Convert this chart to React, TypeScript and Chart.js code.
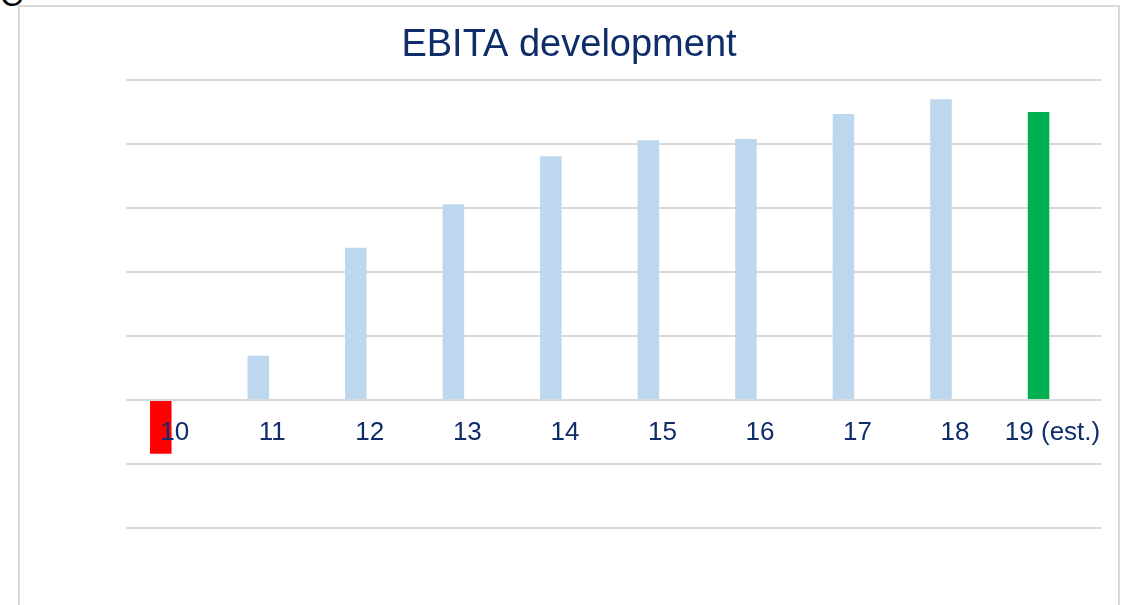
import React, { useEffect, useRef } from "react";
import { Chart, registerables } from "chart.js";

Chart.register(...registerables);

const categories = ["10", "11", "12", "13", "14", "15", "16", "17", "18", "19 (est.)"];
const ebitaValues = [-0.84, 0.69, 2.38, 3.06, 3.81, 4.06, 4.08, 4.47, 4.7, 4.5];
const spacerValues = [null, null, null, null, null, null, null, null, null, null];
const barColors = [
  "#FF0000",
  "#BDD7EE",
  "#BDD7EE",
  "#BDD7EE",
  "#BDD7EE",
  "#BDD7EE",
  "#BDD7EE",
  "#BDD7EE",
  "#BDD7EE",
  "#00B050",
];
const yMin = -2;
const yMax = 5;
const yStep = 1;
const titleText = "EBITA development";

export default function App() {
  const canvasRef = useRef<HTMLCanvasElement | null>(null);

  useEffect(() => {
    const canvas = canvasRef.current;
    if (!canvas) return;
    const chart = new Chart(canvas, {
      type: "bar",
      data: {
        labels: categories,
        datasets: [
          {
            label: "EBITA",
            data: ebitaValues,
            backgroundColor: barColors,
            borderWidth: 0,
            categoryPercentage: 0.574,
            barPercentage: 0.77,
          },
          {
            label: "spacer",
            data: spacerValues as any,
            backgroundColor: "rgba(0,0,0,0)",
            borderWidth: 0,
            categoryPercentage: 0.574,
            barPercentage: 0.77,
          },
        ],
      },
      options: {
        animation: false,
        responsive: false,
        devicePixelRatio: 1,
        layout: { padding: { left: 0, right: 0, top: 0, bottom: 77 } },
        plugins: {
          legend: { display: false },
          tooltip: { enabled: false },
          title: {
            display: true,
            text: titleText,
            color: "#0F2D69",
            font: { family: "'Liberation Sans', Arial, sans-serif", size: 38, weight: "normal" },
            padding: { top: 16, bottom: 11.4 },
          },
        },
        scales: {
          y: {
            min: yMin,
            max: yMax,
            ticks: { display: false, stepSize: yStep },
            grid: { color: "#D9D9D9", lineWidth: 2, drawTicks: false },
            border: { display: false },
            afterFit: (scale: any) => {
              scale.width = 106;
            },
          },
          yRight: {
            position: "right",
            min: yMin,
            max: yMax,
            ticks: { display: false },
            grid: { display: false, drawTicks: false },
            border: { display: false },
            afterFit: (scale: any) => {
              scale.width = 16;
            },
          },
          x: {
            position: { y: 0 } as any,
            grid: { display: false, drawTicks: false },
            border: { display: false },
            ticks: {
              z: 1,
              color: "#0F2D69",
              font: { family: "'Liberation Sans', Arial, sans-serif", size: 26 },
              padding: 17,
              maxRotation: 0,
              autoSkip: false,
            },
          },
        },
      },
    });
    return () => chart.destroy();
  }, []);

  return (
    <div style={{ position: "fixed", left: 0, top: 0, width: 1124, height: 605, overflow: "hidden", background: "#fff" }}>
      <span
        style={{
          position: "absolute",
          left: 0,
          top: -21,
          fontFamily: "'Liberation Sans', Arial, sans-serif",
          fontSize: 32,
          lineHeight: "32px",
          color: "#000",
        }}
      >
        C
      </span>
      <div
        style={{
          position: "absolute",
          left: 18,
          top: 5,
          width: 1098,
          height: 700,
          border: "2px solid #D9D9D9",
        }}
      />
      <canvas
        ref={canvasRef}
        width={1098}
        height={598}
        style={{ position: "absolute", left: 20, top: 7, width: 1098, height: 598 }}
      />
    </div>
  );
}
